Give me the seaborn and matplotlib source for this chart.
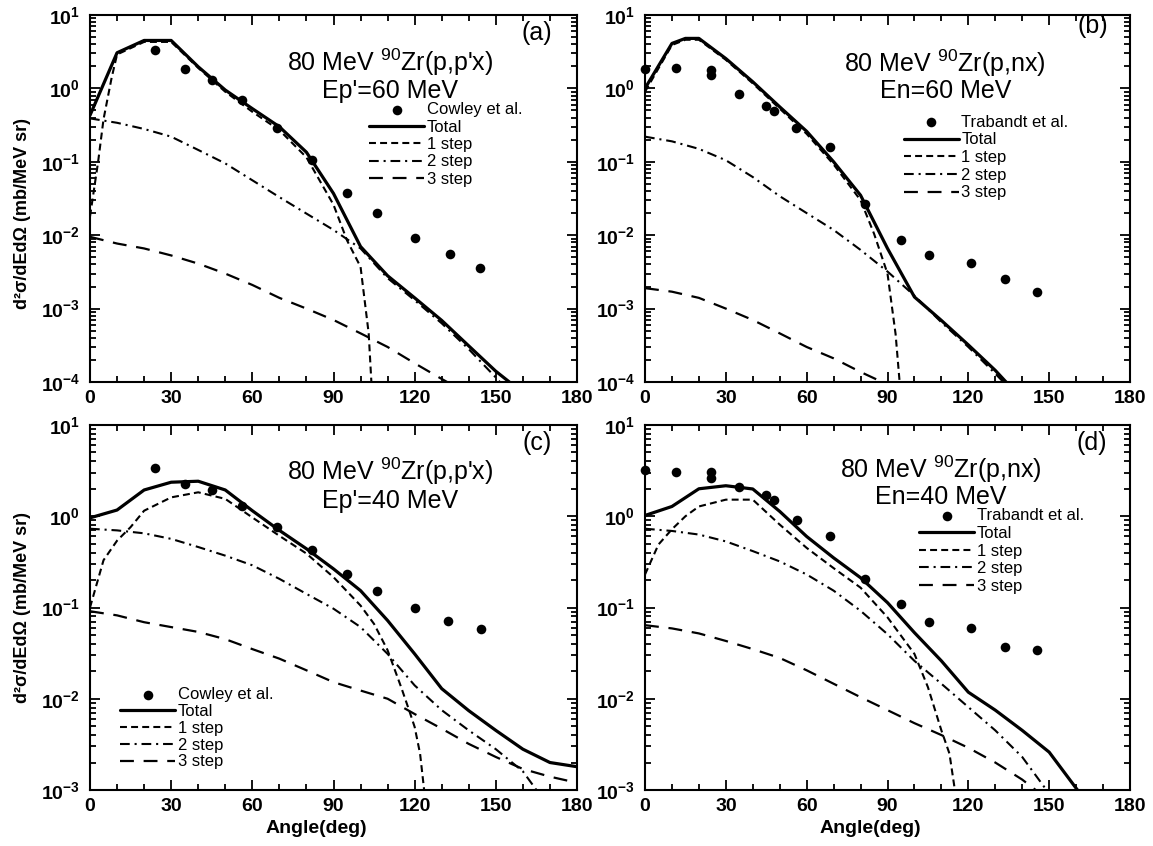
import numpy as np
import pandas as pd
import matplotlib
matplotlib.use("Agg")
import matplotlib.pyplot as plt
import seaborn as sns
from matplotlib.ticker import MultipleLocator, LogLocator, FuncFormatter, NullFormatter

# ---------------- data ----------------
# Panel (a): 80 MeV 90Zr(p,p'x), Ep'=60 MeV
a_exp_x = [24, 35, 45, 56, 69, 82, 95, 106, 120, 133, 144]
a_exp_y = [3.33, 1.84, 1.3, 0.69, 0.29, 0.105, 0.0376, 0.0198, 0.0093, 0.0055, 0.0036]
a_tot_x = [0, 10, 20, 30, 40, 50, 60, 70, 80, 90, 100, 110, 120, 130, 140, 150, 155]
a_tot_y = [0.43, 3.06, 4.5, 4.5, 1.97, 0.95, 0.53, 0.30, 0.135, 0.037, 0.0070, 0.0028,
           0.0014, 6.9e-4, 3.1e-4, 1.4e-4, 1.0e-4]
a_s1_x = [0, 3, 5, 8, 10, 20, 30, 40, 50, 60, 70, 80, 90, 95, 100, 103, 104]
a_s1_y = [0.018, 0.1, 0.38, 1.4, 2.9, 4.3, 4.3, 1.9, 0.9, 0.48, 0.27, 0.115, 0.026,
          0.0085, 0.0037, 4.6e-4, 1e-4]
a_s2_x = [0, 10, 20, 30, 40, 50, 60, 70, 80, 90, 100, 110, 120, 130, 140, 150, 151.5]
a_s2_y = [0.39, 0.34, 0.28, 0.22, 0.145, 0.095, 0.056, 0.033, 0.0197, 0.0118, 0.0066,
          0.0026, 0.0013, 6.3e-4, 2.8e-4, 1.15e-4, 1e-4]
a_s3_x = [0, 10, 20, 30, 40, 50, 60, 70, 80, 90, 100, 110, 120, 130, 132]
a_s3_y = [0.0095, 0.0077, 0.0066, 0.0053, 0.0041, 0.003, 0.0021, 0.0014, 0.001, 7e-4,
          4.6e-4, 3e-4, 1.8e-4, 1.1e-4, 1e-4]

# Panel (b): 80 MeV 90Zr(p,nx), En=60 MeV
b_exp_x = [0, 11.5, 24.5, 24.5, 35, 45, 48, 56, 68.5, 81.5, 95, 105.5, 121, 133.5, 145.5]
b_exp_y = [1.82, 1.87, 1.8, 1.53, 0.83, 0.575, 0.49, 0.29, 0.16, 0.0265, 0.0085, 0.0053,
           0.0042, 0.0025, 0.0017]
b_tot_x = [0, 10, 15, 20, 30, 40, 50, 60, 70, 80, 90, 100, 110, 120, 130, 134]
b_tot_y = [1.0, 4.1, 4.8, 4.8, 2.55, 1.23, 0.56, 0.26, 0.1, 0.035, 0.0066, 0.00144,
           6.9e-4, 3.2e-4, 1.44e-4, 1e-4]
b_s1_x = [0, 10, 15, 20, 30, 40, 50, 60, 70, 80, 85, 90, 93, 94.5]
b_s1_y = [0.9, 3.9, 4.6, 4.6, 2.45, 1.17, 0.53, 0.24, 0.092, 0.03, 0.0105, 0.003, 4.5e-4, 1e-4]
b_s2_x = [0, 10, 20, 30, 40, 50, 60, 70, 80, 90, 100, 110, 120, 130, 133]
b_s2_y = [0.22, 0.19, 0.15, 0.105, 0.062, 0.034, 0.02, 0.0118, 0.0063, 0.0032, 0.0015,
          6.5e-4, 3e-4, 1.3e-4, 1e-4]
b_s3_x = [0, 10, 20, 30, 40, 50, 60, 70, 80, 88]
b_s3_y = [0.0019, 0.0017, 0.0014, 0.001, 7e-4, 4.6e-4, 3e-4, 2.1e-4, 1.37e-4, 1e-4]

# Panel (c): 80 MeV 90Zr(p,p'x), Ep'=40 MeV
c_exp_x = [24, 35, 45, 56, 69, 82, 95, 106, 120, 132.5, 144.5]
c_exp_y = [3.36, 2.26, 1.96, 1.28, 0.76, 0.43, 0.234, 0.153, 0.098, 0.072, 0.058]
c_tot_x = [0, 10, 20, 30, 40, 50, 60, 70, 80, 90, 100, 110, 120, 130, 140, 150, 160, 170, 180]
c_tot_y = [0.96, 1.17, 1.94, 2.36, 2.42, 1.94, 1.15, 0.70, 0.44, 0.265, 0.153, 0.072, 0.031,
           0.0129, 0.0074, 0.0045, 0.0028, 0.002, 0.0018]
c_s1_x = [0, 5, 10, 15, 20, 30, 40, 50, 60, 70, 80, 90, 100, 105, 110, 115, 118, 120, 122, 123.5]
c_s1_y = [0.1, 0.33, 0.54, 0.76, 1.15, 1.61, 1.83, 1.55, 0.97, 0.61, 0.39, 0.215, 0.105,
          0.066, 0.034, 0.0134, 0.0074, 0.0049, 0.0025, 0.001]
c_s2_x = [0, 10, 20, 30, 40, 50, 60, 70, 80, 90, 100, 110, 120, 130, 140, 150, 160, 165]
c_s2_y = [0.73, 0.70, 0.65, 0.565, 0.46, 0.37, 0.29, 0.206, 0.141, 0.097, 0.061, 0.031,
          0.014, 0.0075, 0.0045, 0.0028, 0.0016, 0.001]
c_s3_x = [0, 10, 20, 30, 40, 50, 60, 70, 80, 90, 100, 110, 120, 130, 140, 150, 160, 170, 180]
c_s3_y = [0.091, 0.082, 0.069, 0.061, 0.054, 0.045, 0.035, 0.0275, 0.0205, 0.0152, 0.0123,
          0.01, 0.0068, 0.0047, 0.0032, 0.0023, 0.0017, 0.0014, 0.0012]

# Panel (d): 80 MeV 90Zr(p,nx), En=40 MeV
d_exp_x = [0, 11.5, 24.5, 24.5, 35, 45, 48, 56.5, 68.5, 81.5, 95, 105.5, 121, 133.5, 145.5]
d_exp_y = [3.18, 3.05, 3.05, 2.62, 2.07, 1.72, 1.50, 0.90, 0.60, 0.207, 0.109, 0.069,
           0.060, 0.037, 0.034]
d_tot_x = [0, 10, 20, 30, 40, 50, 60, 70, 80, 90, 100, 110, 120, 130, 140, 150, 160.5]
d_tot_y = [1.02, 1.28, 2.0, 2.16, 1.99, 1.13, 0.6, 0.35, 0.212, 0.113, 0.053, 0.026, 0.0118,
           0.0075, 0.0045, 0.0026, 0.001]
d_s1_x = [0, 5, 10, 15, 20, 30, 40, 50, 60, 70, 80, 90, 100, 105, 110, 113, 115]
d_s1_y = [0.23, 0.49, 0.72, 1.0, 1.28, 1.52, 1.52, 0.81, 0.45, 0.27, 0.165, 0.078, 0.031,
          0.0134, 0.0045, 0.0025, 0.001]
d_s2_x = [0, 10, 20, 30, 40, 50, 60, 70, 80, 90, 100, 110, 120, 130, 140, 149]
d_s2_y = [0.73, 0.69, 0.63, 0.53, 0.415, 0.32, 0.23, 0.153, 0.092, 0.051, 0.026, 0.0146,
          0.0081, 0.0045, 0.0023, 0.001]
d_s3_x = [0, 10, 20, 30, 40, 50, 60, 70, 80, 90, 100, 110, 120, 130, 140, 145]
d_s3_y = [0.064, 0.059, 0.052, 0.043, 0.035, 0.028, 0.0205, 0.0146, 0.0104, 0.0075, 0.0054,
          0.004, 0.0029, 0.002, 0.0013, 0.001]

panel_tags = ["(a)", "(b)", "(c)", "(d)"]
titles_1 = ["80 MeV $^{90}$Zr(p,p'x)", "80 MeV $^{90}$Zr(p,nx)",
            "80 MeV $^{90}$Zr(p,p'x)", "80 MeV $^{90}$Zr(p,nx)"]
titles_2 = ["Ep'=60 MeV", "En=60 MeV", "Ep'=40 MeV", "En=40 MeV"]
exp_labels = ["Cowley et al.", "Trabandt et al.", "Cowley et al.", "Trabandt et al."]
curve_labels = ["Total", "1 step", "2 step", "3 step"]

# ---------------- style ----------------
sns.set_theme(style="ticks")
plt.rcParams["font.family"] = ["Liberation Sans", "DejaVu Sans"]
plt.rcParams["mathtext.fontset"] = "custom"
plt.rcParams["mathtext.rm"] = "Liberation Sans"
plt.rcParams["mathtext.it"] = "Liberation Sans:italic"
plt.rcParams["mathtext.bf"] = "Liberation Sans:bold"
plt.rcParams["lines.scale_dashes"] = False
for k in ["text.color", "axes.labelcolor", "xtick.color", "ytick.color", "axes.edgecolor"]:
    plt.rcParams[k] = "black"

fig = plt.figure(figsize=(11.53, 8.46), dpi=100)
W, H = 1153.0, 846.0
ax_rects = [
    [90 / W, 1 - 382 / H, 487 / W, 367 / H],
    [645 / W, 1 - 382 / H, 485 / W, 367 / H],
    [90 / W, 1 - 790 / H, 487 / W, 365 / H],
    [645 / W, 1 - 790 / H, 485 / W, 365 / H],
]
ylims = [(1e-4, 10), (1e-4, 10), (1e-3, 10), (1e-3, 10)]
legend_anchor = [(0.573, 0.762), (0.534, 0.728), (0.062, 0.282), (0.565, 0.772)]
legend_spacing = [0.14, 0.16, 0.11, 0.16]
title_pos = [(0.616, 0.872, 0.792), (0.619, 0.868, 0.792),
             (0.616, 0.872, 0.793), (0.610, 0.878, 0.803)]
tag_pos = [(0.918, 0.950), (0.924, 0.970), (0.918, 0.950), (0.922, 0.950)]
ylabel_y = [0.46, None, 0.50, None]

styles = [
    dict(linestyle="-", linewidth=2.3),
    dict(linestyle=(0, (5, 3)), linewidth=1.5),
    dict(linestyle=(0, (7, 3.5, 1.5, 3.5)), linewidth=1.5),
    dict(linestyle=(0, (10, 7)), linewidth=1.6),
]

panels = [
    (a_exp_x, a_exp_y, [(a_tot_x, a_tot_y), (a_s1_x, a_s1_y), (a_s2_x, a_s2_y), (a_s3_x, a_s3_y)]),
    (b_exp_x, b_exp_y, [(b_tot_x, b_tot_y), (b_s1_x, b_s1_y), (b_s2_x, b_s2_y), (b_s3_x, b_s3_y)]),
    (c_exp_x, c_exp_y, [(c_tot_x, c_tot_y), (c_s1_x, c_s1_y), (c_s2_x, c_s2_y), (c_s3_x, c_s3_y)]),
    (d_exp_x, d_exp_y, [(d_tot_x, d_tot_y), (d_s1_x, d_s1_y), (d_s2_x, d_s2_y), (d_s3_x, d_s3_y)]),
]


def log_fmt(v, pos):
    e = int(round(np.log10(v)))
    return r"$\mathbf{10^{%d}}$" % e


for i, (ex, ey, curves) in enumerate(panels):
    ax = fig.add_axes(ax_rects[i])
    ax.set_yscale("log")
    for (cx, cy), lab, st in zip(curves, curve_labels, styles):
        df = pd.DataFrame({"angle": cx, "xs": cy})
        sns.lineplot(data=df, x="angle", y="xs", ax=ax, color="black", estimator=None,
                     errorbar=None, label=lab, **st)
    df_e = pd.DataFrame({"angle": ex, "xs": ey})
    sns.scatterplot(data=df_e, x="angle", y="xs", ax=ax, color="black", s=48,
                    linewidth=0, label=exp_labels[i], clip_on=False, zorder=5)

    ax.set_xlim(0, 180)
    ax.set_ylim(*ylims[i])
    ax.xaxis.set_major_locator(MultipleLocator(30))
    ax.xaxis.set_minor_locator(MultipleLocator(10))
    ax.yaxis.set_major_locator(LogLocator(base=10, numticks=10))
    ax.yaxis.set_minor_locator(LogLocator(base=10, subs=np.arange(2, 10), numticks=30))
    ax.yaxis.set_major_formatter(FuncFormatter(log_fmt))
    ax.yaxis.set_minor_formatter(NullFormatter())
    ax.tick_params(which="both", direction="in", top=True, right=True, width=1.3,
                   labelsize=14, colors="black")
    ax.tick_params(which="major", length=7)
    ax.tick_params(which="minor", length=4)
    ax.tick_params(axis="x", pad=6)
    ax.tick_params(axis="y", pad=7)
    for lbl in ax.get_xticklabels():
        lbl.set_fontweight("bold")
    for sp in ax.spines.values():
        sp.set_linewidth(1.5)
        sp.set_color("black")

    if ylabel_y[i] is not None:
        ax.set_ylabel("d\u00b2\u03c3/dEd\u03a9 (mb/MeV sr)", fontsize=13, fontweight="bold")
        ax.yaxis.set_label_coords(-0.121, ylabel_y[i])
    else:
        ax.set_ylabel("")
    if i in (2, 3):
        ax.set_xlabel("Angle(deg)", fontsize=14, fontweight="bold")
        ax.xaxis.set_label_coords(0.464, -0.082)
    else:
        ax.set_xlabel("")

    h, l = ax.get_legend_handles_labels()
    order = [exp_labels[i]] + curve_labels
    hd = dict(zip(l, h))
    ax.legend([hd[k] for k in order], order, loc="upper left",
              bbox_to_anchor=legend_anchor[i], frameon=False, fontsize=12,
              handlelength=3.3, handletextpad=0.15, labelspacing=legend_spacing[i],
              borderpad=0, borderaxespad=0, scatterpoints=1)

    tx, ty1, ty2 = title_pos[i]
    ax.text(tx, ty1, titles_1[i], transform=ax.transAxes, ha="center", va="center", fontsize=18)
    ax.text(tx, ty2, titles_2[i], transform=ax.transAxes, ha="center", va="center", fontsize=18)
    ax.text(tag_pos[i][0], tag_pos[i][1], panel_tags[i], transform=ax.transAxes,
            ha="center", va="center", fontsize=18)

fig.savefig("out.png", dpi=100)
